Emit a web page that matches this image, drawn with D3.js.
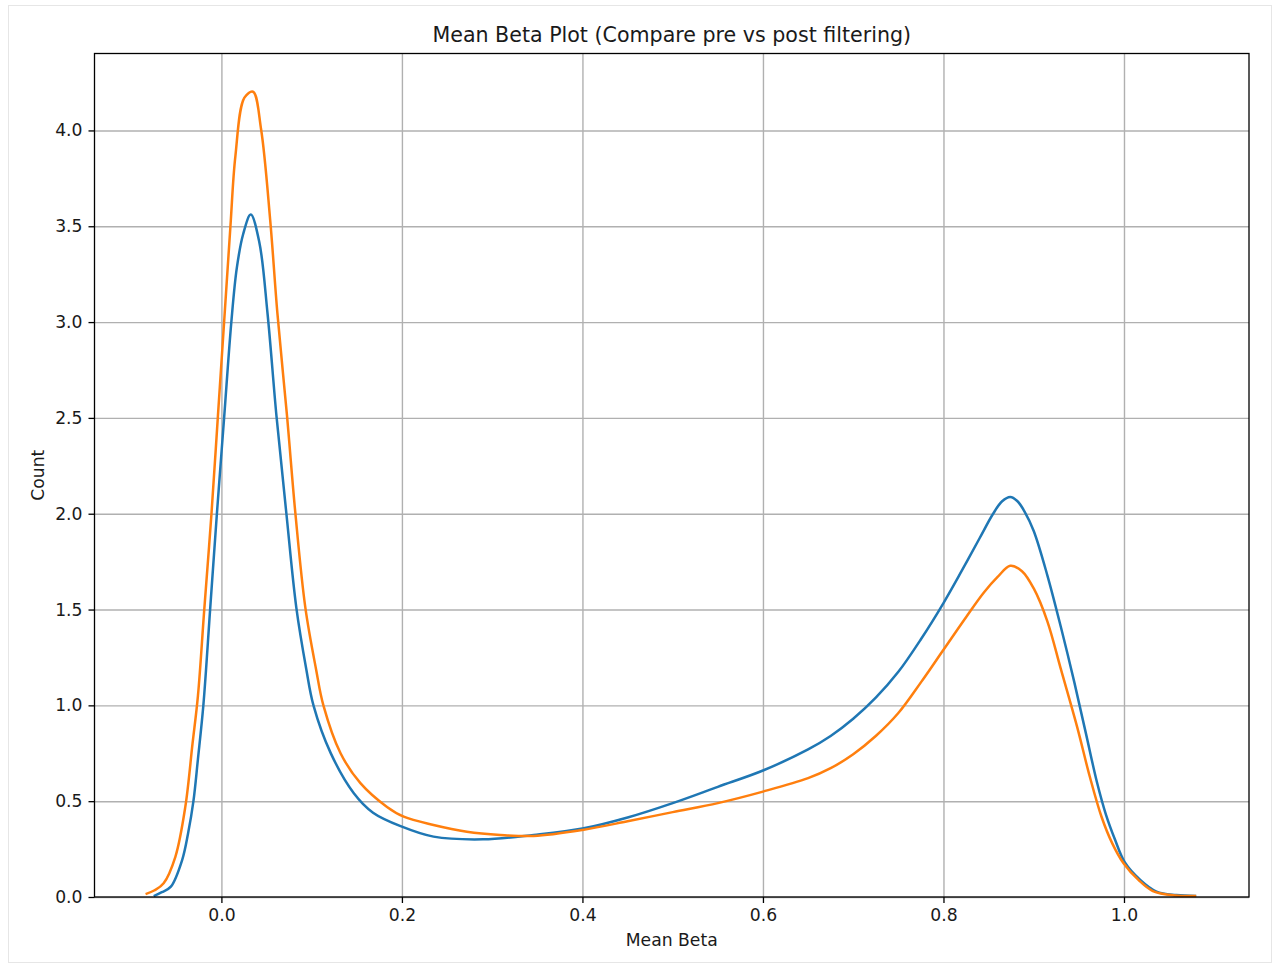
<!DOCTYPE html>
<meta charset="utf-8">
<script src="https://cdnjs.cloudflare.com/ajax/libs/d3/7.8.5/d3.min.js"></script>
<style>
  body { margin: 0; background: #fff; }
  text { font-family: "DejaVu Sans", sans-serif; fill: #1a1a1a; }
</style>
<div id="my_dataviz"></div>
<script>

  // pre filtering (blue), [mean beta, density]
  var preFilter = [[-0.075, 0.005], [-0.066, 0.025], [-0.056, 0.054], [-0.0435, 0.193], [-0.037, 0.33],
    [-0.031, 0.50], [-0.026, 0.72], [-0.020, 1.0], [-0.0125, 1.5], [-0.005, 2.0], [0.003, 2.5], [0.011, 3.0],
    [0.017, 3.28], [0.024, 3.457], [0.0325, 3.561], [0.042, 3.417], [0.051, 3.05], [0.061, 2.51], [0.072, 2.0],
    [0.083, 1.51], [0.094, 1.19], [0.102, 1.0], [0.121, 0.752], [0.1465, 0.543], [0.168, 0.44], [0.200, 0.367],
    [0.235, 0.315], [0.290, 0.301], [0.346, 0.324], [0.40, 0.357], [0.45, 0.415], [0.50, 0.49], [0.55, 0.575],
    [0.60, 0.66], [0.65, 0.77], [0.675, 0.84], [0.70, 0.93], [0.725, 1.04], [0.75, 1.175], [0.775, 1.345],
    [0.80, 1.534], [0.82, 1.70], [0.84, 1.872], [0.855, 2.0], [0.865, 2.065], [0.874, 2.087], [0.882, 2.065],
    [0.890, 2.01], [0.90, 1.91], [0.915, 1.68], [0.93, 1.41], [0.945, 1.12], [0.958, 0.85], [0.97, 0.60],
    [0.98, 0.43], [0.99, 0.30], [1.001, 0.18], [1.018, 0.089], [1.036, 0.028], [1.058, 0.01], [1.080, 0.005]];

  // post filtering (orange)
  var postFilter = [[-0.084, 0.015], [-0.074, 0.035], [-0.064, 0.072], [-0.051, 0.21], [-0.040, 0.47],
    [-0.032, 0.80], [-0.026, 1.05], [-0.019, 1.5], [-0.011, 2.0], [-0.004, 2.5], [0.003, 3.0], [0.010, 3.5],
    [0.0155, 3.866], [0.0255, 4.171], [0.035, 4.202], [0.044, 4.005], [0.054, 3.535], [0.062, 3.048],
    [0.0727, 2.51], [0.082, 2.0], [0.093, 1.51], [0.105, 1.185], [0.113, 1.0], [0.132, 0.75], [0.154, 0.594],
    [0.1835, 0.47], [0.202, 0.419], [0.235, 0.376], [0.272, 0.341], [0.309, 0.324], [0.346, 0.3185],
    [0.40, 0.35], [0.45, 0.395], [0.50, 0.443], [0.55, 0.49], [0.60, 0.55], [0.65, 0.62], [0.675, 0.672],
    [0.70, 0.745], [0.725, 0.84], [0.75, 0.96], [0.775, 1.12], [0.80, 1.29], [0.825, 1.46], [0.845, 1.59],
    [0.86, 1.67], [0.874, 1.728], [0.887, 1.70], [0.90, 1.61], [0.915, 1.44], [0.93, 1.19], [0.948, 0.889],
    [0.962, 0.63], [0.975, 0.42], [0.987, 0.28], [0.9995, 0.176], [1.016, 0.089], [1.032, 0.031],
    [1.057, 0.008], [1.080, 0.005]];

  var xTicks = [0.0, 0.2, 0.4, 0.6, 0.8, 1.0];
  var yTicks = [0.0, 0.5, 1.0, 1.5, 2.0, 2.5, 3.0, 3.5, 4.0];

  var W = 1275, H = 966;
  var margin = { top: 53.5, left: 94.5 },
    width = 1249 - margin.left,
    height = 897 - margin.top;

  var root = d3.select("#my_dataviz")
    .append("svg")
    .attr("width", W)
    .attr("height", H);

  // notebook output frame
  root.append("rect")
    .attr("x", 8.5).attr("y", 5.5)
    .attr("width", W - 12).attr("height", H - 9)
    .style("fill", "none").style("stroke", "#e6e6e6");

  var svg = root.append("g")
    .attr("transform", "translate(" + margin.left + "," + margin.top + ")");

  var x = d3.scaleLinear().domain([-0.1406, 1.1385]).range([0, width]);
  var y = d3.scaleLinear().domain([0, 4.4015]).range([height, 0]);

  // grid
  svg.append("g")
    .attr("class", "grid")
    .attr("transform", "translate(0," + height + ")")
    .call(d3.axisBottom(x).tickValues(xTicks).tickSize(-height).tickFormat(""));
  svg.append("g")
    .attr("class", "grid")
    .call(d3.axisLeft(y).tickValues(yTicks).tickSize(-width).tickFormat(""));
  svg.selectAll(".grid .domain").remove();
  svg.selectAll(".grid line").style("stroke", "#b0b0b0").style("stroke-width", 1.4);

  var line = d3.line()
    .x(function (d) { return x(d[0]); })
    .y(function (d) { return y(d[1]); })
    .curve(d3.curveCatmullRom.alpha(0.5));

  svg.append("path").datum(preFilter)
    .attr("d", line)
    .style("fill", "none").style("stroke", "#1f77b4").style("stroke-width", 2.5)
    .style("stroke-linejoin", "round");
  svg.append("path").datum(postFilter)
    .attr("d", line)
    .style("fill", "none").style("stroke", "#ff7f0e").style("stroke-width", 2.5)
    .style("stroke-linejoin", "round");

  // axes
  var xAxis = svg.append("g")
    .attr("transform", "translate(0," + height + ")")
    .call(d3.axisBottom(x).tickValues(xTicks).tickSize(6).tickPadding(6).tickFormat(d3.format(".1f")));
  var yAxis = svg.append("g")
    .call(d3.axisLeft(y).tickValues(yTicks).tickSize(6).tickPadding(6).tickFormat(d3.format(".1f")));
  [xAxis, yAxis].forEach(function (a) {
    a.select(".domain").remove();
    a.selectAll("line").style("stroke", "#000").style("stroke-width", 1.3);
    a.selectAll("text").style("font-size", "17.2px").style("font-family", "DejaVu Sans").style("fill", "#1a1a1a");
  });

  // spines
  svg.append("rect")
    .attr("width", width).attr("height", height)
    .style("fill", "none").style("stroke", "#000").style("stroke-width", 1.3);

  // titles
  root.append("text")
    .attr("x", margin.left + width / 2).attr("y", 42)
    .attr("text-anchor", "middle")
    .style("font-size", "20.6px")
    .text("Mean Beta Plot (Compare pre vs post filtering)");

  root.append("text")
    .attr("x", margin.left + width / 2).attr("y", 946)
    .attr("text-anchor", "middle")
    .style("font-size", "17.2px")
    .text("Mean Beta");

  root.append("text")
    .attr("transform", "translate(44," + (margin.top + height / 2) + ") rotate(-90)")
    .attr("text-anchor", "middle")
    .style("font-size", "17.2px")
    .text("Count");
</script>
